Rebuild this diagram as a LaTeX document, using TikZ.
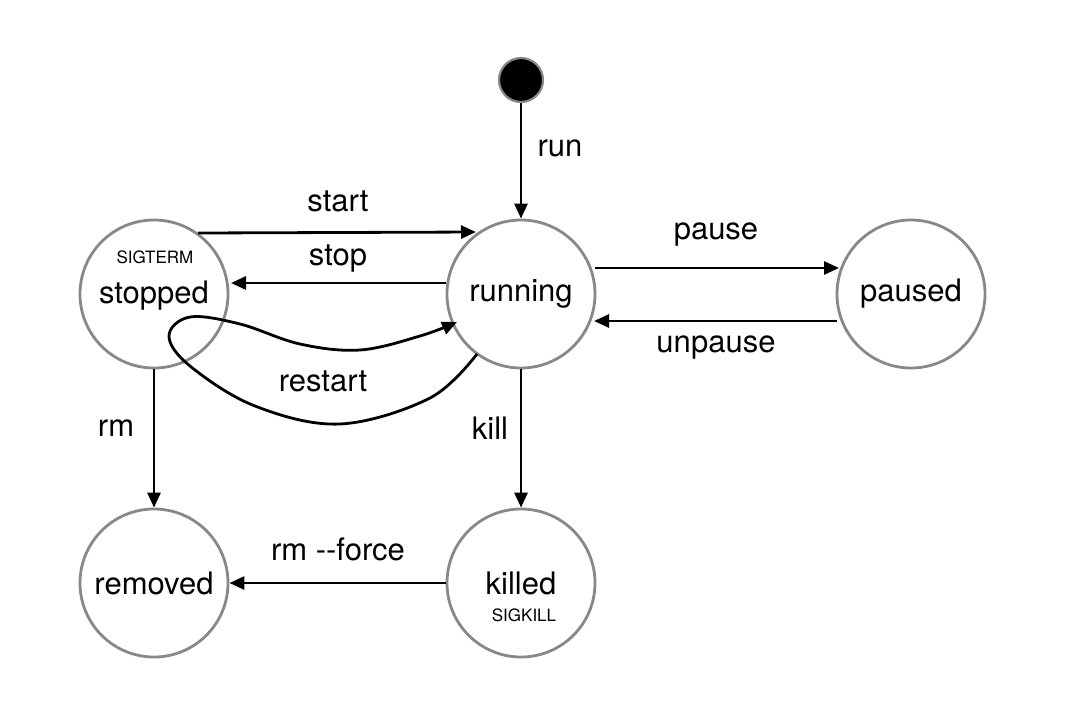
\documentclass[tikz,border=0pt]{standalone}
\usepackage{fontspec}
\setmainfont{TeX Gyre Heros}
\usetikzlibrary{arrows.meta}
\definecolor{ringgray}{HTML}{888888}
\begin{document}
\begin{tikzpicture}[x=1pt,y=-1pt,
  state/.style={circle,draw=ringgray,line width=2.8pt,minimum size=148pt,inner sep=0pt,font=\fontsize{31}{33}\selectfont},
  edge/.style={line width=2.8pt,-{Triangle[length=15pt,width=13pt]}},
  lbl/.style={font=\fontsize{31}{33}\selectfont,inner sep=0pt},
  tiny/.style={font=\fontsize{17}{19}\selectfont,inner sep=0pt}]
\useasboundingbox (0,0) rectangle (1089,716);
\node[circle,fill=black,draw=ringgray,line width=2.2pt,minimum size=44pt,inner sep=0pt] (init) at (521,80) {};
\node[state] (stopped) at (154,294) {};
\node at (154,296) {\fontsize{31}{33}\selectfont stopped};
\node[tiny] (sigterm) at (155,257) {SIGTERM};
\node[state] (running) at (521,294) {running};
\node[state] (paused) at (911,294) {paused};
\node[state] (removed) at (154,583) {removed};
\node[state] (killed) at (521,583) {};
\node at (521,583) {\fontsize{31}{33}\selectfont killed};
\node[tiny] (sigkill) at (524,615) {SIGKILL};

\draw[edge] (init) -- (running);
\node[lbl] (lrun) at (560,148) {run};

\coordinate (s1) at (198,233);
\coordinate (s2) at (476,232);
\draw[edge] (s1) -- (s2);
\node[lbl] (lstart) at (338,201) {start};

\coordinate (t1) at (446,283);
\coordinate (t2) at (231,283);
\draw[edge] (t1) -- (t2);
\node[lbl] (lstop) at (338,259) {stop};

\coordinate (pa) at (595,268);
\coordinate (pb) at (839,268);
\draw[edge] (pa) -- (pb);
\node[lbl] (lpause) at (716,235) {pause};
\coordinate (ua) at (837,321);
\coordinate (ub) at (594,321);
\draw[edge] (ua) -- (ub);
\node[lbl] (lunpause) at (716,348) {unpause};

\draw[edge] (stopped) -- (removed);
\node[lbl] (lrm) at (116,428) {rm};
\draw[edge] (running) -- (killed);
\node[lbl] (lkill) at (490,428) {kill};
\draw[edge] (killed) -- (removed);
\node[lbl] (lforce) at (338,549) {rm -{}-force};

\draw[line width=2.8pt,-{Triangle[length=15pt,width=13pt]}]
  plot[smooth,tension=0.6] coordinates {(477,354) (430,398) (340,424) (255,406) (190,366) (169,336) (190,317) (240,324) (300,344) (360,350) (420,336) (457,322)};
\node[lbl] (lrestart) at (323,381) {restart};
\end{tikzpicture}
\end{document}
